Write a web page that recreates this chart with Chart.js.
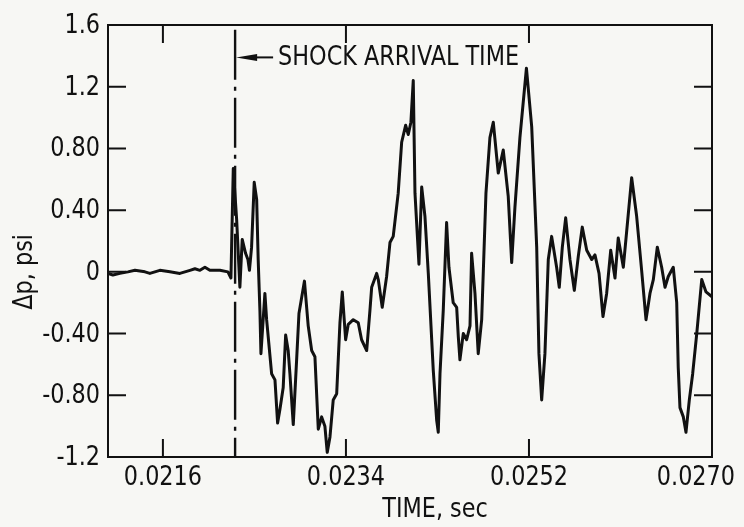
<!DOCTYPE html>
<html>
<head>
<meta charset="utf-8">
<script src="https://cdn.jsdelivr.net/npm/chart.js@4/dist/chart.umd.min.js"></script>
<style>
  html, body { margin: 0; padding: 0; background: #f7f7f4; }
  #wrap { width: 744px; height: 527px; }
</style>
</head>
<body>
<div id="wrap"><canvas id="c" width="744" height="527"></canvas></div>
<script>
// ---- data ----
const timeSec = [
  0.021059, 0.021108, 0.021177, 0.021256, 0.021325, 0.021423, 0.021472, 0.021570, 0.021669, 0.021767,
  0.021866, 0.021915, 0.021964, 0.022013, 0.022062, 0.022161, 0.022239, 0.022269, 0.022292, 0.022325,
  0.022357, 0.022380, 0.022413, 0.022436, 0.022451, 0.022472, 0.022498, 0.022522, 0.022537, 0.022554,
  0.022564, 0.022603, 0.022620, 0.022669, 0.022702, 0.022728, 0.022751, 0.022783, 0.022807, 0.022832,
  0.022849, 0.022882, 0.022915, 0.022938, 0.022992, 0.023029, 0.023063, 0.023095, 0.023128, 0.023161,
  0.023193, 0.023216, 0.023243, 0.023275, 0.023309, 0.023341, 0.023364, 0.023397, 0.023423, 0.023472,
  0.023521, 0.023554, 0.023604, 0.023636, 0.023653, 0.023702, 0.023718, 0.023757, 0.023800, 0.023833,
  0.023865, 0.023914, 0.023948, 0.023987, 0.024013, 0.024039, 0.024062, 0.024079, 0.024118, 0.024145,
  0.024177, 0.024210, 0.024259, 0.024292, 0.024308, 0.024325, 0.024357, 0.024390, 0.024413, 0.024455,
  0.024489, 0.024505, 0.024521, 0.024554, 0.024587, 0.024620, 0.024636, 0.024669, 0.024701, 0.024735,
  0.024777, 0.024816, 0.024849, 0.024898, 0.024947, 0.024996, 0.025030, 0.025062, 0.025111, 0.025175,
  0.025227, 0.025276, 0.025298, 0.025325, 0.025357, 0.025390, 0.025423, 0.025472, 0.025498, 0.025528,
  0.025561, 0.025603, 0.025646, 0.025685, 0.025724, 0.025768, 0.025817, 0.025849, 0.025889, 0.025928,
  0.025964, 0.026004, 0.026046, 0.026078, 0.026128, 0.026210, 0.026259, 0.026308, 0.026351, 0.026390,
  0.026423, 0.026462, 0.026505, 0.026538, 0.026570, 0.026619, 0.026653, 0.026668, 0.026685, 0.026718,
  0.026744, 0.026777, 0.026810, 0.026850, 0.026899, 0.026941, 0.026997
];
const deltaP = [
  -0.01, -0.02, -0.01, 0.00, 0.01, 0.00, -0.01, 0.01, 0.00, -0.01,
  0.01, 0.02, 0.01, 0.03, 0.01, 0.01, 0.00, -0.04, 0.67, 0.34,
  -0.10, 0.21, 0.12, 0.08, 0.01, 0.16, 0.58, 0.47, 0.08, -0.25,
  -0.53, -0.14, -0.31, -0.66, -0.70, -0.98, -0.89, -0.75, -0.41, -0.51,
  -0.66, -0.99, -0.57, -0.27, -0.06, -0.35, -0.51, -0.55, -1.02, -0.94,
  -1.00, -1.17, -1.07, -0.83, -0.79, -0.33, -0.13, -0.44, -0.34, -0.31,
  -0.33, -0.44, -0.51, -0.25, -0.10, -0.01, -0.05, -0.23, -0.03, 0.19,
  0.23, 0.51, 0.84, 0.95, 0.89, 0.97, 1.24, 0.51, 0.05, 0.55,
  0.36, -0.01, -0.64, -0.96, -1.04, -0.66, -0.25, 0.32, 0.03, -0.20,
  -0.23, -0.42, -0.57, -0.40, -0.44, -0.35, 0.12, -0.14, -0.53, -0.31,
  0.51, 0.87, 0.97, 0.64, 0.79, 0.49, 0.06, 0.42, 0.87, 1.32,
  0.94, 0.16, -0.53, -0.83, -0.53, 0.08, 0.23, 0.03, -0.10, 0.16,
  0.35, 0.08, -0.12, 0.10, 0.29, 0.14, 0.08, 0.11, -0.01, -0.29,
  -0.14, 0.14, -0.04, 0.22, 0.03, 0.61, 0.36, 0.01, -0.31, -0.14,
  -0.05, 0.16, 0.03, -0.10, -0.03, 0.03, -0.20, -0.62, -0.88, -0.94,
  -1.04, -0.83, -0.66, -0.40, -0.05, -0.13, -0.16
];
const shockTime = [0.02231, 0.02231];
const shockP = [1.57, -1.2];
const arrowP = 1.39;
const xTicks = [0.0216, 0.0234, 0.0252, 0.0270];
const xTickLabels = ['0.0216', '0.0234', '0.0252', '0.0270'];
const yTicks = [-1.2, -0.8, -0.4, 0, 0.4, 0.8, 1.2, 1.6];
const yTickLabels = ['-1.2', '-0.80', '-0.40', '0', '0.40', '0.80', '1.2', '1.6'];
const annotationText = 'SHOCK ARRIVAL TIME';
const xTitle = 'TIME, sec';
const yTitle = '\u0394p, psi';

const FONT = "'Liberation Sans Narrow', 'DejaVu Sans Condensed', sans-serif";
const FONT_SIZE = 27;
const INK = '#111111';

const traceData = timeSec.map((t, i) => ({ x: t, y: deltaP[i] }));
const shockData = shockTime.map((t, i) => ({ x: t, y: shockP[i] }));

// condensed text helper: draw text squeezed horizontally
function drawText(ctx, text, x, y, align, sx) {
  const w = ctx.measureText(text).width * sx;
  let left = x;
  if (align === 'center') left = x - w / 2;
  else if (align === 'right') left = x - w;
  ctx.save();
  ctx.translate(left, y);
  ctx.scale(sx, 1);
  ctx.textAlign = 'left';
  ctx.fillText(text, 0, 0);
  ctx.restore();
  return w;
}

const framePlugin = {
  id: 'frame',
  beforeDraw(chart) {
    const ctx = chart.ctx;
    ctx.save();
    ctx.fillStyle = '#f7f7f4';
    ctx.fillRect(0, 0, chart.width, chart.height);
    ctx.restore();
  },
  afterDraw(chart) {
    const ctx = chart.ctx;
    const a = chart.chartArea;
    const xs = chart.scales.x, ys = chart.scales.y;
    const tick = 18;
    ctx.save();
    ctx.strokeStyle = INK;
    ctx.lineWidth = 2;
    ctx.lineCap = 'butt';
    ctx.strokeRect(a.left, a.top, a.right - a.left, a.bottom - a.top);
    ctx.beginPath();
    ys.ticks.forEach(t => {
      const y = ys.getPixelForValue(t.value);
      ctx.moveTo(a.left, y); ctx.lineTo(a.left + tick, y);
      ctx.moveTo(a.right, y); ctx.lineTo(a.right - tick, y);
    });
    xs.ticks.forEach(t => {
      const x = xs.getPixelForValue(t.value);
      ctx.moveTo(x, a.top); ctx.lineTo(x, a.top + tick);
      ctx.moveTo(x, a.bottom); ctx.lineTo(x, a.bottom - tick);
    });
    ctx.stroke();

    ctx.fillStyle = INK;
    ctx.font = FONT_SIZE + "px " + FONT;
    ctx.textBaseline = 'middle';
    // horizontal squeeze so the annotation spans the reference width
    const sx = Math.min(1, 241 / ctx.measureText(annotationText).width);

    // tick labels, positioned by the library's scales
    ys.ticks.forEach((t, i) => {
      drawText(ctx, yTickLabels[i], a.left - 8, ys.getPixelForValue(t.value) + 1, 'right', sx);
    });
    xs.ticks.forEach((t, i) => {
      const label = xTickLabels[i];
      const w = ctx.measureText(label).width * sx;
      let cx = xs.getPixelForValue(t.value);
      cx = Math.min(cx, chart.width - 9 - w / 2);
      drawText(ctx, label, cx, a.bottom + 21, 'center', sx);
    });

    // arrow + annotation
    const shx = xs.getPixelForValue(shockTime[0]);
    const ay = ys.getPixelForValue(arrowP);
    ctx.beginPath();
    ctx.moveTo(shx + 18, ay); ctx.lineTo(shx + 38, ay);
    ctx.stroke();
    ctx.beginPath();
    ctx.moveTo(shx + 1, ay);
    ctx.lineTo(shx + 22, ay - 3.5);
    ctx.lineTo(shx + 22, ay + 3.5);
    ctx.closePath();
    ctx.fill();
    drawText(ctx, annotationText, shx + 43, ay + 1, 'left', sx);

    // axis titles
    drawText(ctx, xTitle, 435, 510, 'center', sx);
    ctx.translate(25, ys.getPixelForValue(0));
    ctx.rotate(-Math.PI / 2);
    drawText(ctx, yTitle, 0, 0, 'center', sx);
    ctx.restore();
  }
};

new Chart(document.getElementById('c'), {
  type: 'scatter',
  data: {
    datasets: [
      {
        data: traceData,
        showLine: true,
        borderColor: INK,
        borderWidth: 3,
        pointRadius: 0,
        tension: 0,
        borderJoinStyle: 'round',
        borderCapStyle: 'round'
      },
      {
        data: shockData,
        showLine: true,
        borderColor: INK,
        borderWidth: 2.4,
        borderDash: [50, 7, 4, 7],
        pointRadius: 0
      }
    ]
  },
  plugins: [framePlugin],
  options: {
    responsive: false,
    devicePixelRatio: 1,
    animation: false,
    events: [],
    layout: { padding: { top: 25, right: 32, bottom: 0, left: 0 } },
    plugins: { legend: { display: false }, tooltip: { enabled: false }, title: { display: false } },
    scales: {
      x: {
        type: 'linear',
        min: 0.02106,
        max: 0.0270,
        afterBuildTicks: s => { s.ticks = xTicks.map(v => ({ value: v })); },
        afterFit: s => { s.height = 70; s.paddingLeft = 0; s.paddingRight = 0; },
        grid: { display: false, drawTicks: false },
        border: { display: false },
        ticks: { display: false }
      },
      y: {
        type: 'linear',
        min: -1.2,
        max: 1.6,
        afterBuildTicks: s => { s.ticks = yTicks.map(v => ({ value: v })); },
        afterFit: s => { s.width = 108; s.paddingTop = 0; s.paddingBottom = 0; },
        grid: { display: false, drawTicks: false },
        border: { display: false },
        ticks: { display: false }
      }
    }
  }
});
</script>
</body>
</html>
